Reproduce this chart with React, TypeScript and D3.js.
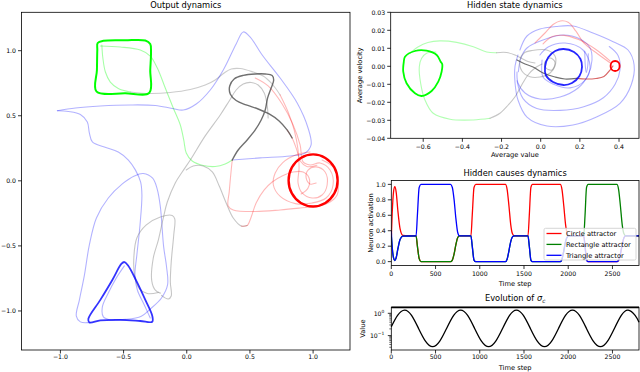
import React from "react";
import * as d3 from "d3";

type P = [number, number];

// ---------------- Output dynamics (left panel) ----------------
const outXTicks = [-1.0, -0.5, 0.0, 0.5, 1.0];
const outYTicks = [-1.0, -0.5, 0.0, 0.5, 1.0];

const outGreenSquare: P[] = [[-0.705,1.059],[-0.660,1.076],[-0.486,1.080],[-0.328,1.078],[-0.289,1.051],[-0.283,0.990],[-0.289,0.852],[-0.296,0.677],[-0.486,0.673],[-0.715,0.687],[-0.711,0.852],[-0.708,1.005]];
const outGreenOuter: P[] = [[-0.684,1.036],[-0.526,1.028],[-0.368,1.005],[-0.289,0.959],[-0.233,0.867],[-0.170,0.713],[-0.107,0.560],[-0.051,0.429],[-0.024,0.314],[-0.004,0.214],[0.043,0.152],[0.130,0.118],[0.225,0.110],[0.304,0.129],[0.360,0.160]];
const outGreenInner: P[] = [[-0.672,1.044],[-0.664,0.944],[-0.644,0.836],[-0.605,0.759],[-0.542,0.710],[-0.447,0.683]];
const outGrayUpper: P[] = [[-0.447,0.683],[-0.289,0.671],[-0.130,0.679],[0.028,0.702],[0.146,0.736],[0.225,0.775],[0.296,0.829],[0.352,0.859],[0.423,0.863],[0.526,0.836],[0.605,0.806],[0.676,0.744],[0.739,0.660]];
const outBlueOuter: P[] = [[-1.024,0.539],[-0.881,0.560],[-0.684,0.575],[-0.447,0.583],[-0.249,0.579],[-0.115,0.556],[-0.028,0.544],[0.075,0.590],[0.186,0.698],[0.289,0.852],[0.391,1.052],[0.447,1.144],[0.502,1.105],[0.597,0.967],[0.739,0.790],[0.874,0.598],[0.960,0.406],[0.984,0.276],[0.937,0.214],[0.818,0.191],[0.581,0.176],[0.360,0.160]];
const outBlueDown: P[] = [[-1.024,0.539],[-0.937,0.533],[-0.842,0.510],[-0.787,0.452],[-0.771,0.368],[-0.747,0.299],[-0.652,0.260],[-0.542,0.222],[-0.462,0.160],[-0.407,0.084],[-0.365,-0.010],[-0.355,-0.109],[-0.370,-0.339],[-0.395,-0.570],[-0.410,-0.724],[-0.391,-0.839],[-0.336,-0.954],[-0.289,-1.054]];
const outBlueLoop: P[] = [[-0.494,-0.654],[-0.557,-0.746],[-0.621,-0.862],[-0.668,-0.969],[-0.660,-1.046],[-0.605,-1.069],[-0.486,-1.065],[-0.360,-1.040],[-0.289,-0.985],[-0.200,-0.900],[-0.152,-0.800],[-0.160,-0.660],[-0.183,-0.506],[-0.209,-0.199],[-0.235,-0.060],[-0.270,0.020],[-0.344,0.056],[-0.415,0.037],[-0.510,-0.024],[-0.621,-0.132],[-0.715,-0.285],[-0.771,-0.493],[-0.810,-0.724],[-0.850,-0.916],[-0.874,-1.039],[-0.842,-1.084],[-0.763,-1.088]];
const outBlueTriangle: P[] = [[-0.494,-0.624],[-0.462,-0.654],[-0.399,-0.769],[-0.328,-0.915],[-0.273,-1.038],[-0.273,-1.083],[-0.368,-1.077],[-0.526,-1.069],[-0.684,-1.073],[-0.771,-1.088],[-0.779,-1.061],[-0.684,-0.915],[-0.589,-0.762],[-0.518,-0.639]];
const outGrayDiag: P[] = [[-0.209,-0.863],[-0.249,-0.840],[-0.277,-0.769],[-0.265,-0.593],[-0.225,-0.455],[-0.186,-0.286],[-0.154,-0.163],[-0.091,-0.016],[-0.036,0.068],[0.028,0.160],[0.146,0.345],[0.265,0.506],[0.336,0.614],[0.391,0.698],[0.447,0.744],[0.510,0.756],[0.565,0.736],[0.613,0.675],[0.636,0.583],[0.644,0.483]];
const outGrayLoop: P[] = [[-0.225,-0.858],[-0.312,-0.866],[-0.375,-0.831],[-0.411,-0.739],[-0.419,-0.593],[-0.395,-0.439],[-0.320,-0.339],[-0.209,-0.278],[-0.115,-0.266],[-0.095,-0.293],[-0.103,-0.416],[-0.123,-0.624],[-0.130,-0.777],[-0.123,-0.885],[-0.146,-0.908],[-0.200,-0.880]];
const outGrayArc: P[] = [[-0.004,0.083],[0.051,0.114],[0.130,0.114],[0.202,0.068],[0.257,-0.040],[0.312,-0.170],[0.368,-0.286],[0.431,-0.347],[0.478,-0.343]];
const outRedArc: P[] = [[0.431,-0.347],[0.478,-0.343],[0.510,-0.278],[0.549,-0.170],[0.613,-0.070],[0.676,-0.009],[0.755,0.037],[0.842,0.068],[0.921,0.068],[0.968,0.022],[0.960,-0.055],[0.905,-0.101]];
const outRedFromTop: P[] = [[0.739,0.660],[0.802,0.529],[0.850,0.391],[0.881,0.237],[0.889,0.099],[0.881,-0.017],[0.913,-0.093],[0.992,-0.132],[1.071,-0.109],[1.111,-0.032],[1.095,0.068],[1.024,0.107],[0.960,0.083],[0.945,0.022],[0.976,-0.024],[1.024,-0.017]];
const outRedSpiral: P[] = [[0.542,0.790],[0.644,0.729],[0.755,0.590],[0.842,0.429],[0.897,0.276],[0.921,0.145],[0.976,0.122],[1.055,0.137],[1.134,0.083],[1.158,-0.032],[1.103,-0.132],[0.992,-0.170],[0.860,-0.175],[0.740,-0.120],[0.685,-0.030],[0.700,0.060],[0.760,0.140],[0.866,0.200],[0.976,0.222]];
const outRedBottom: P[] = [[0.360,0.160],[0.348,0.045],[0.336,-0.085],[0.328,-0.193],[0.368,-0.224],[0.542,-0.236],[0.739,-0.224],[0.897,-0.209],[1.040,-0.193],[1.134,-0.162],[1.190,-0.109],[1.198,-0.010],[1.166,0.099],[1.071,0.160]];
const outRedTail: P[] = [[0.794,0.391],[0.834,0.329],[0.870,0.240],[0.900,0.150],[0.950,0.110],[1.030,0.120]];
const outRedCircle: P[] = [[1.000,0.203],[1.097,0.176],[1.168,0.103],[1.194,0.003],[1.168,-0.097],[1.097,-0.170],[1.000,-0.197],[0.903,-0.170],[0.832,-0.097],[0.806,0.003],[0.832,0.103],[0.903,0.176]];
const outDarkLoop: P[] = [[0.360,0.160],[0.407,0.237],[0.478,0.314],[0.542,0.391],[0.589,0.467],[0.621,0.544],[0.640,0.637],[0.668,0.713],[0.688,0.775],[0.676,0.810],[0.621,0.821],[0.542,0.821],[0.447,0.810],[0.375,0.783],[0.340,0.729],[0.344,0.667],[0.391,0.617],[0.470,0.583],[0.565,0.552],[0.652,0.514],[0.731,0.460],[0.794,0.391],[0.834,0.329]];

// ---------------- Hidden state dynamics (top right) ----------------
const hsXTicks = [-0.6, -0.4, -0.2, 0.0, 0.2, 0.4];
const hsYTicks = [-0.04, -0.03, -0.02, -0.01, 0.0, 0.01, 0.02, 0.03];

const hsGreenLoop: P[] = [[-0.693,0.00533],[-0.642,0.0085],[-0.583,0.00867],[-0.531,0.00628],[-0.511,0.00256],[-0.503,0.00128],[-0.506,-0.0030],[-0.523,-0.00856],[-0.557,-0.01372],[-0.608,-0.0165],[-0.642,-0.0150],[-0.685,-0.00944],[-0.702,-0.0030],[-0.699,0.00256]];
const hsGreenTop: P[] = [[-0.668,0.00722],[-0.627,0.0107],[-0.576,0.0132],[-0.515,0.0141],[-0.429,0.0133],[-0.344,0.0109],[-0.276,0.00794],[-0.225,0.00756]];
const hsGrayTop: P[] = [[-0.225,0.00756],[-0.174,0.00767],[-0.131,0.00628],[-0.096,0.00433],[-0.065,0.00267],[-0.029,0.00183]];
const hsGreenBottom: P[] = [[-0.535,0.00794],[-0.581,0.00739],[-0.608,0.00444],[-0.620,-0.00022],[-0.613,-0.00944],[-0.591,-0.0187],[-0.549,-0.0261],[-0.463,-0.0294],[-0.344,-0.0298],[-0.259,-0.0289]];
const hsGrayBottom: P[] = [[-0.259,-0.0289],[-0.208,-0.0261],[-0.166,-0.0215],[-0.131,-0.0169],[-0.097,-0.0104],[-0.065,-0.00483],[-0.029,-0.00094],[0.007,0.00128]];
const hsGrayLoop: P[] = [[-0.106,0.0035],[-0.085,0.00739],[-0.044,0.00878],[0.031,0.00906],[0.073,0.00572],[0.073,0.00017],[0.048,-0.00372],[-0.004,-0.00594],[-0.055,-0.00578],[-0.096,-0.00261]];
const hsGraySmall: P[] = [[0.022,0.00239],[0.048,0.00461],[0.073,0.00239],[0.058,-0.00206],[0.027,-0.00094]];
const hsDarkLine: P[] = [[-0.121,0.0035],[-0.080,0.00128],[-0.039,-0.00039],[0.012,-0.00372],[0.073,-0.00594],[0.124,-0.00706],[0.184,-0.00667]];
const hsDarkRed: P[] = [[0.184,-0.00667],[0.231,-0.00706],[0.282,-0.00678],[0.323,-0.00567],[0.354,-0.00206],[0.369,0.00017]];
const hsBlueCircle: P[] = [[0.1165,0.00961],[0.170,0.00794],[0.203,0.00406],[0.211,-0.00039],[0.198,-0.00539],[0.160,-0.00928],[0.1165,-0.0104],[0.063,-0.00872],[0.027,-0.00511],[0.022,-0.00039],[0.038,0.00489],[0.074,0.0085]];
const hsBlueOuter: P[] = [[-0.106,0.00906],[-0.070,0.01683],[-0.004,0.02072],[0.078,0.02211],[0.165,0.02239],[0.267,0.0185],[0.370,0.01367],[0.446,0.00906],[0.477,0.00072],[0.462,-0.01039],[0.405,-0.02056],[0.288,-0.028],[0.165,-0.0326],[0.032,-0.0332],[-0.070,-0.0282],[-0.116,-0.0187],[-0.131,-0.00928],[-0.131,0.00017],[-0.116,0.00628]];
const hsBlueMid: P[] = [[-0.114,-0.003],[-0.101,0.00461],[-0.070,0.01017],[0.012,0.01461],[0.114,0.01739],[0.201,0.01517],[0.252,0.01017],[0.262,0.0035],[0.242,-0.00483],[0.191,-0.01206],[0.099,-0.01706],[-0.004,-0.01817],[-0.080,-0.01483],[-0.116,-0.00928],[-0.121,-0.00317]];
const hsBlueWide: P[] = [[-0.121,-0.008],[-0.090,-0.018],[-0.020,-0.0235],[0.100,-0.0245],[0.220,-0.0225],[0.320,-0.0175],[0.380,-0.0100],[0.405,-0.0020],[0.395,0.0060],[0.350,0.0110]];
const hsBlueInner: P[] = [[0.007,0.0035],[0.012,-0.00594],[0.063,-0.00983],[0.150,-0.012],[0.227,-0.00761],[0.252,0.00017],[0.216,0.00906],[0.124,0.01294],[0.038,0.01072],[-0.004,0.00628]];
const hsBlueHook: P[] = [[0.225,0.0085],[0.228,0.0000],[0.233,-0.0035],[0.240,0.0000],[0.243,0.0070]];
const hsRedA: P[] = [[-0.029,0.0130],[0.022,0.0185],[0.063,0.0232],[0.100,0.0252],[0.140,0.0245],[0.180,0.0195],[0.220,0.0130],[0.290,0.0070],[0.354,0.0020]];
const hsRedB: P[] = [[0.012,0.0125],[0.060,0.0165],[0.120,0.0172],[0.190,0.0150],[0.280,0.0095],[0.354,0.0030]];
const hsRedCircle: P[] = [[0.380,0.00294],[0.398,0.00211],[0.403,0.00017],[0.398,-0.00178],[0.380,-0.00261],[0.362,-0.00178],[0.357,0.00017],[0.362,0.00211]];

// ---------------- Hidden causes dynamics ----------------
const timeTicks = [0, 500, 1000, 1500, 2000, 2500];
const causeYTicks = [0.0, 0.2, 0.4, 0.6, 0.8, 1.0];
const causeT = [0,10,25,40,55,75,100,130,280,295,315,335,670,690,710,730,750,770,900,915,935,955,1290,1310,1330,1350,1370,1390,1545,1560,1578,1595,1910,1930,1950,1970,1990,2010,2175,2190,2207,2225,2550,2570,2590,2610,2630,2650,2800];
const causeCircle = [0.30,0.62,0.90,0.97,0.90,0.65,0.42,0.34,0.333,0.20,0.04,0.0,0.0,0.02,0.10,0.22,0.31,0.333,0.333,0.60,0.96,1.0,1.0,0.93,0.72,0.48,0.36,0.333,0.333,0.60,0.96,1.0,1.0,0.93,0.72,0.48,0.36,0.333,0.333,0.20,0.04,0.0,0.0,0.02,0.10,0.22,0.31,0.333,0.333];
const causeRect = [0.33,0.19,0.05,0.015,0.05,0.17,0.29,0.33,0.333,0.20,0.04,0.0,0.0,0.02,0.10,0.22,0.31,0.333,0.333,0.20,0.02,0.0,0.0,0.035,0.14,0.26,0.32,0.333,0.333,0.20,0.02,0.0,0.0,0.035,0.14,0.26,0.32,0.333,0.333,0.60,0.96,1.0,1.0,0.93,0.72,0.48,0.36,0.333,0.333];
const causeTri = [0.40,0.19,0.05,0.015,0.05,0.17,0.29,0.33,0.333,0.60,0.96,1.0,1.0,0.96,0.80,0.56,0.38,0.333,0.333,0.20,0.02,0.0,0.0,0.035,0.14,0.26,0.32,0.333,0.333,0.20,0.02,0.0,0.0,0.035,0.14,0.26,0.32,0.333,0.333,0.20,0.02,0.0,0.0,0.02,0.10,0.22,0.31,0.333,0.333];
const causeNames = ["Circle attractor", "Rectangle attractor", "Triangle attractor"];

// ---------------- Evolution of sigma_c ----------------
const sigmaT = [0,71,150,229,308,388,467,546,625,705,784,863,942,1021,1100,1179,1258,1337,1414,1493,1572,1652,1732,1811,1890,1969,2048,2127,2206,2285,2364,2443,2522,2600,2677,2756,2800];
const sigmaV = [0.25,0.81,1.4,0.81,0.21,0.055,0.032,0.055,0.21,0.81,1.4,0.81,0.21,0.055,0.032,0.055,0.21,0.81,1.4,0.81,0.21,0.055,0.032,0.055,0.21,0.81,1.4,0.81,0.21,0.055,0.032,0.055,0.21,0.81,1.4,0.81,0.40];
const sigmaCeil = 1.86;
const sigmaMajor = [0.1, 1];
const sigmaMinor = [0.03,0.04,0.05,0.06,0.07,0.08,0.09,0.2,0.3,0.4,0.5,0.6,0.7,0.8,0.9];

const FONT = "DejaVu Sans, Verdana, sans-serif";
const TICK_FS = 6.2;
const LABEL_FS = 6.7;
const TITLE_FS = 8.3;

export default function App() {
  const sxL = d3.scaleLinear().domain([-1.308, 1.292]).range([21.5, 350]);
  const syL = d3.scaleLinear().domain([-1.3, 1.295]).range([350, 12.3]);
  const sxH = d3.scaleLinear().domain([-0.766, 0.502]).range([390.7, 639]);
  const syH = d3.scaleLinear().domain([-0.04, 0.03]).range([138.3, 12.3]);
  const sxC = d3.scaleLinear().domain([0, 2800]).range([391.3, 639]);
  const syC = d3.scaleLinear().domain([-0.05, 1.05]).range([265.5, 180.5]);
  const syS = d3.scaleLog().domain([0.0226, 1.86]).range([350, 307.3]);

  const open = d3.curveCatmullRom.alpha(0.5);
  const closed = d3.curveCatmullRomClosed.alpha(0.5);
  const pathL = (pts: P[], c = open) => d3.line<P>().x(d => sxL(d[0])).y(d => syL(d[1])).curve(c)(pts) || "";
  const pathH = (pts: P[], c = open) => d3.line<P>().x(d => sxH(d[0])).y(d => syH(d[1])).curve(c)(pts) || "";

  const fmt1 = d3.format(".1f");
  const fmt2 = d3.format(".2f");

  const leftFaint = [
    { d: outGreenOuter, c: "#00ff00", o: 0.35 },
    { d: outGreenInner, c: "#00ff00", o: 0.35 },
    { d: outGrayUpper, c: "#808080", o: 0.4 },
    { d: outBlueOuter, c: "#0000ff", o: 0.3 },
    { d: outBlueDown, c: "#0000ff", o: 0.3 },
    { d: outBlueLoop, c: "#0000ff", o: 0.3 },
    { d: outGrayDiag, c: "#808080", o: 0.45 },
    { d: outGrayLoop, c: "#808080", o: 0.45 },
    { d: outGrayArc, c: "#808080", o: 0.45 },
    { d: outRedArc, c: "#ff0000", o: 0.28 },
    { d: outRedFromTop, c: "#ff0000", o: 0.28 },
    { d: outRedSpiral, c: "#ff0000", o: 0.28 },
    { d: outRedBottom, c: "#ff0000", o: 0.28 },
    { d: outRedTail, c: "#ff0000", o: 0.28 },
  ];
  const hsFaint = [
    { d: hsGreenTop, c: "#00ff00", o: 0.3 },
    { d: hsGrayTop, c: "#808080", o: 0.45 },
    { d: hsGreenBottom, c: "#00ff00", o: 0.3 },
    { d: hsGrayBottom, c: "#808080", o: 0.45 },
    { d: hsBlueOuter, c: "#0000ff", o: 0.3 },
    { d: hsBlueMid, c: "#0000ff", o: 0.3 },
    { d: hsBlueWide, c: "#0000ff", o: 0.3 },
    { d: hsBlueInner, c: "#0000ff", o: 0.3 },
    { d: hsBlueHook, c: "#0000ff", o: 0.3 },
    { d: hsRedA, c: "#ff0000", o: 0.3 },
    { d: hsRedB, c: "#ff0000", o: 0.3 },
  ];

  const causeLine = (vals: number[]) =>
    d3.line<number>().x((_, i) => sxC(causeT[i])).y(v => syC(v)).curve(d3.curveMonotoneX)(vals) || "";
  const sigmaLine = d3.line<number>().x((_, i) => sxC(sigmaT[i])).y(v => syS(v)).curve(d3.curveNatural)(sigmaV) || "";

  const txt = { fontFamily: FONT, fill: "#000" } as const;

  const frame = (x0: number, x1: number, y0: number, y1: number) => (
    <rect x={x0} y={y0} width={x1 - x0} height={y1 - y0} fill="none" stroke="#000" strokeWidth={0.8} />
  );
  const xTicks = (ticks: number[], sx: (v: number) => number, y1: number, labelY: number, f: (v: number) => string) =>
    ticks.map(t => (
      <g key={"x" + t}>
        <line x1={sx(t)} x2={sx(t)} y1={y1} y2={y1 + 3.5} stroke="#000" strokeWidth={0.8} />
        <text x={sx(t)} y={labelY} textAnchor="middle" fontSize={TICK_FS} {...txt}>{f(t)}</text>
      </g>
    ));
  const yTicks = (ticks: number[], sy: (v: number) => number, x0: number, f: (v: number) => string) =>
    ticks.map(t => (
      <g key={"y" + t}>
        <line x1={x0 - 3.5} x2={x0} y1={sy(t)} y2={sy(t)} stroke="#000" strokeWidth={0.8} />
        <text x={x0 - 5.5} y={sy(t) + 2.2} textAnchor="end" fontSize={TICK_FS} {...txt}>{f(t)}</text>
      </g>
    ));

  const [lx0, lx1] = sxL.range();
  const [ly1, ly0] = syL.range();
  const [hx0, hx1] = sxH.range();
  const [hy1, hy0] = syH.range();
  const [cx0, cx1] = sxC.range();
  const [cy1, cy0] = syC.range();
  const [sy1, sy0] = syS.range();

  const legendX = 544, legendY = 228.3;
  const causeColors = ["#ff0000", "#008000", "#0000ff"];
  const causeSeries = [causeCircle, causeRect, causeTri];

  return (
    <svg width={640} height={372} style={{ position: "fixed", left: 0, top: 0, background: "#fff" }}>
      <defs>
        <clipPath id="clipL"><rect x={lx0} y={ly0} width={lx1 - lx0} height={ly1 - ly0} /></clipPath>
        <clipPath id="clipH"><rect x={hx0} y={hy0} width={hx1 - hx0} height={hy1 - hy0} /></clipPath>
        <clipPath id="clipC"><rect x={cx0} y={cy0} width={cx1 - cx0} height={cy1 - cy0} /></clipPath>
      </defs>
      <rect x={0} y={0} width={640} height={372} fill="#fff" />

      {/* ---- Output dynamics ---- */}
      <g clipPath="url(#clipL)" fill="none" strokeLinejoin="round" strokeLinecap="round">
        {leftFaint.map((s, i) => (
          <path key={i} d={pathL(s.d)} stroke={s.c} strokeOpacity={s.o} strokeWidth={1.1} />
        ))}
        <path d={pathL(outDarkLoop)} stroke="#404040" strokeOpacity={0.75} strokeWidth={1.4} />
        <path d={pathL(outGreenSquare, closed)} stroke="#00ff00" strokeWidth={2} />
        <path d={pathL(outBlueTriangle, closed)} stroke="#0000ff" strokeOpacity={0.8} strokeWidth={1.8} />
        <path d={pathL(outRedCircle, closed)} stroke="#ff0000" strokeWidth={2.4} />
      </g>
      {frame(lx0, lx1, ly0, ly1)}
      {xTicks(outXTicks, sxL, ly1, 359, fmt1)}
      {yTicks(outYTicks, syL, lx0, fmt1)}
      <text x={(lx0 + lx1) / 2} y={7.6} textAnchor="middle" fontSize={TITLE_FS} {...txt}>Output dynamics</text>

      {/* ---- Hidden state dynamics ---- */}
      <g clipPath="url(#clipH)" fill="none" strokeLinejoin="round" strokeLinecap="round">
        {hsFaint.map((s, i) => (
          <path key={i} d={pathH(s.d)} stroke={s.c} strokeOpacity={s.o} strokeWidth={1.1} />
        ))}
        <path d={pathH(hsGrayLoop, closed)} stroke="#808080" strokeOpacity={0.45} strokeWidth={1.1} />
        <path d={pathH(hsGraySmall, closed)} stroke="#808080" strokeOpacity={0.5} strokeWidth={1.1} />
        <path d={pathH(hsDarkLine)} stroke="#404040" strokeOpacity={0.75} strokeWidth={1.2} />
        <path d={pathH(hsDarkRed)} stroke="#c00000" strokeOpacity={0.6} strokeWidth={1.2} />
        <path d={pathH(hsGreenLoop, closed)} stroke="#00ff00" strokeWidth={1.8} />
        <path d={pathH(hsBlueCircle, closed)} stroke="#0000ff" strokeOpacity={0.85} strokeWidth={1.8} />
        <path d={pathH(hsRedCircle, closed)} stroke="#ff0000" strokeWidth={1.8} />
      </g>
      {frame(hx0, hx1, hy0, hy1)}
      {xTicks(hsXTicks, sxH, hy1, 149, fmt1)}
      {yTicks(hsYTicks, syH, hx0, fmt2)}
      <text x={(hx0 + hx1) / 2} y={7.6} textAnchor="middle" fontSize={TITLE_FS} {...txt}>Hidden state dynamics</text>
      <text x={(hx0 + hx1) / 2} y={156.6} textAnchor="middle" fontSize={LABEL_FS} {...txt}>Average value</text>
      <text transform={`translate(361.5,${(hy0 + hy1) / 2}) rotate(-90)`} textAnchor="middle" fontSize={LABEL_FS} {...txt}>Average velocity</text>

      {/* ---- Hidden causes dynamics ---- */}
      <g clipPath="url(#clipC)" fill="none" strokeLinejoin="round">
        {causeSeries.map((vals, i) => (
          <path key={i} d={causeLine(vals)} stroke={causeColors[i]} strokeWidth={1.3} />
        ))}
      </g>
      <g>
        <rect x={legendX} y={legendY} width={92} height={31.7} rx={1.5} fill="#fff" fillOpacity={0.8} stroke="#cccccc" strokeWidth={0.8} />
        {causeNames.map((n, i) => (
          <g key={n}>
            <line x1={legendX + 2.5} x2={legendX + 17.5} y1={legendY + 5.2 + i * 10.9} y2={legendY + 5.2 + i * 10.9} stroke={causeColors[i]} strokeWidth={1.3} />
            <text x={legendX + 22} y={legendY + 7.5 + i * 10.9} fontSize={LABEL_FS} {...txt}>{n}</text>
          </g>
        ))}
      </g>
      {frame(cx0, cx1, cy0, cy1)}
      {xTicks(timeTicks, sxC, cy1, 276, d3.format("d"))}
      {yTicks(causeYTicks, syC, cx0, fmt1)}
      <text x={(cx0 + cx1) / 2} y={176} textAnchor="middle" fontSize={TITLE_FS} {...txt}>Hidden causes dynamics</text>
      <text x={(cx0 + cx1) / 2} y={286.3} textAnchor="middle" fontSize={LABEL_FS} {...txt}>Time step</text>
      <text transform={`translate(372.5,${(cy0 + cy1) / 2}) rotate(-90)`} textAnchor="middle" fontSize={LABEL_FS} {...txt}>Neuron activation</text>

      {/* ---- Evolution of sigma_c ---- */}
      <path d={sigmaLine} fill="none" stroke="#000" strokeWidth={1.3} />
      <line x1={cx0} x2={cx1} y1={syS(sigmaCeil)} y2={syS(sigmaCeil)} stroke="#000" strokeWidth={1.8} />
      {frame(cx0, cx1, sy0, sy1)}
      {xTicks(timeTicks, sxC, sy1, 358.5, d3.format("d"))}
      {sigmaMinor.map(v => (
        <line key={v} x1={cx0 - 2} x2={cx0} y1={syS(v)} y2={syS(v)} stroke="#000" strokeWidth={0.6} />
      ))}
      {sigmaMajor.map((v, i) => (
        <g key={v}>
          <line x1={cx0 - 3.5} x2={cx0} y1={syS(v)} y2={syS(v)} stroke="#000" strokeWidth={0.8} />
          <text x={cx0 - 7} y={syS(v) + 2.2} textAnchor="end" fontSize={TICK_FS} {...txt}>
            10<tspan dy={-2.6} fontSize={4.4}>{i === 0 ? "−1" : "0"}</tspan>
          </text>
        </g>
      ))}
      <text x={(cx0 + cx1) / 2} y={301} textAnchor="middle" fontSize={TITLE_FS} {...txt}>
        Evolution of <tspan fontStyle="italic">σ</tspan><tspan dy={1.8} fontSize={5.8} fontStyle="italic">c</tspan>
      </text>
      <text x={(cx0 + cx1) / 2} y={369.5} textAnchor="middle" fontSize={LABEL_FS} {...txt}>Time step</text>
      <text transform={`translate(365,${(sy0 + sy1) / 2}) rotate(-90)`} textAnchor="middle" fontSize={LABEL_FS} {...txt}>Value</text>
    </svg>
  );
}
